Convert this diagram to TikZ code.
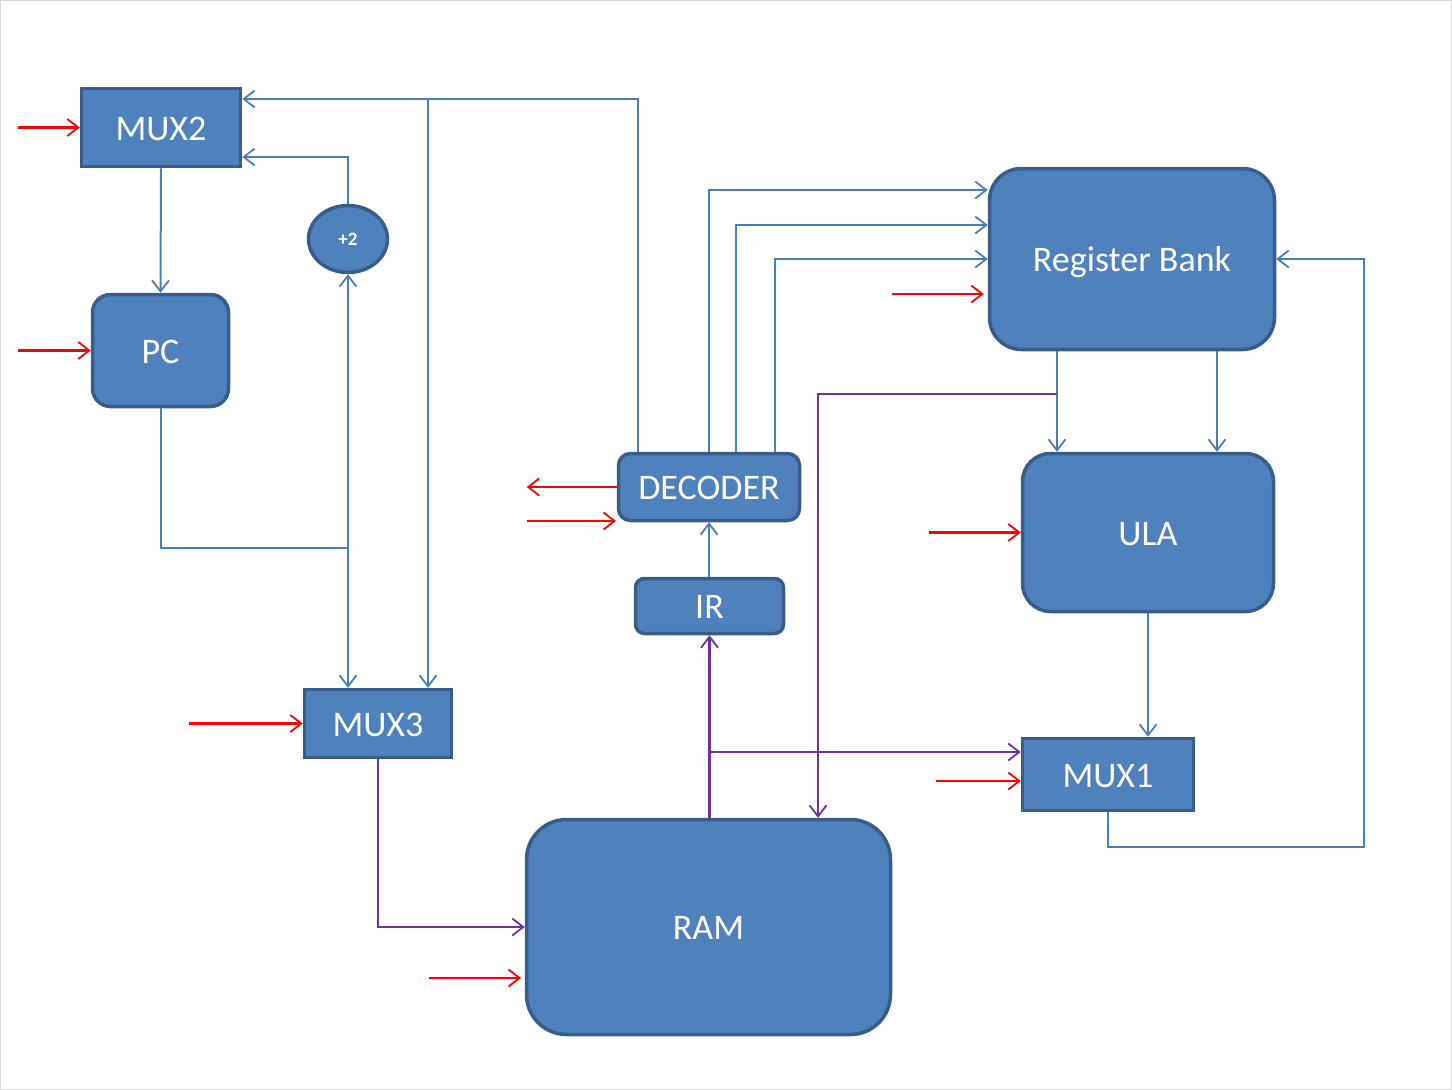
\documentclass[tikz,border=0pt]{standalone}
\usepackage{fontspec}
\setmainfont{Carlito}
\usetikzlibrary{arrows.meta,shapes.geometric}
\definecolor{boxfill}{HTML}{4F81BD}
\definecolor{boxline}{HTML}{385D8A}
\definecolor{wireblue}{HTML}{4A7EBB}
\definecolor{wirepurple}{HTML}{7030A0}
\definecolor{wirered}{HTML}{FF0000}
\begin{document}
\begin{tikzpicture}[x=1pt,y=-1pt,
  blk/.style={draw=boxline, fill=boxfill, line width=3.5pt, text=white,
    font=\fontsize{36}{40}\selectfont, inner sep=0pt, rectangle,
    text height=25pt, text depth=0pt},
  tipv/.style={-{Straight Barb[length=11pt,width=17pt,line width=1.8pt]}},
  bw/.style={draw=wireblue, line width=2pt, tipv},
  bl/.style={draw=wireblue, line width=2pt},
  pw/.style={draw=wirepurple, line width=2.2pt, tipv},
  rw/.style={draw=wirered, line width=2.2pt, tipv}]
\useasboundingbox (0,0) rectangle (1452,1090);
\draw[black!15, line width=1pt] (0.5,0.5) rectangle (1451.5,1089.5);

% blocks
\node[blk, minimum width=159pt, minimum height=78pt] (mux2) at (161,127.5) {MUX2};
\node[blk, rounded corners=18pt, minimum width=136pt, minimum height=112pt] (pc) at (160.5,350.5) {PC};
\node[blk, ellipse, minimum width=79pt, minimum height=67pt, font=\fontsize{19}{22}\selectfont\bfseries, text height=13pt] (plus2) at (348,239) {+2};
\node[blk, minimum width=147pt, minimum height=68pt] (mux3) at (378,723.5) {MUX3};
\node[blk, rounded corners=12pt, minimum width=181pt, minimum height=67pt] (dec) at (709,487) {DECODER};
\node[blk, rounded corners=9pt, minimum width=148pt, minimum height=55pt] (ir) at (709.5,606) {IR};
\node[blk, rounded corners=32pt, minimum width=285pt, minimum height=181pt] (reg) at (1132,259) {Register Bank};
\node[blk, rounded corners=28pt, minimum width=251pt, minimum height=158pt] (ula) at (1148,532.5) {ULA};
\node[blk, minimum width=171pt, minimum height=72pt] (mux1) at (1108,774.5) {MUX1};
\node[blk, rounded corners=40pt, minimum width=364pt, minimum height=215pt] (ram) at (708.5,927) {RAM};

\coordinate (jtop) at (428,99);
\coordinate (jpc) at (348,548);
\coordinate (jir) at (709,752);
\coordinate (jreg) at (1057,394);

% blue connectors
\draw[bw] (mux2.south) -- (pc.north);
\draw[bw] (plus2.north) |- (mux2.east |- 0,157);
\draw[bw] ([xshift=-71pt]dec.north) |- (mux2.east |- 0,99);
\draw[bw] (jtop) -- (mux3.north -| 428,0);
\draw[bl] (pc.south) |- (jpc);
\draw[bw] (jpc) -- (plus2.south);
\draw[bw] (jpc) -- (mux3.north -| 348,0);
\draw[bw] (dec.north) |- (reg.west |- 0,190);
\draw[bw] ([xshift=27pt]dec.north) |- (reg.west |- 0,225);
\draw[bw] ([xshift=66pt]dec.north) |- (reg.west |- 0,259);
\draw[bw] (ir.north -| dec.south) -- (dec.south);
\draw[bw] (reg.south -| 1057,0) -- (ula.north -| 1057,0);
\draw[bw] (reg.south -| 1217,0) -- (ula.north -| 1217,0);
\draw[bw] (ula.south) -- (mux1.north -| ula.south);
\draw[bw] (mux1.south) |- (1364,847) |- (reg.east);

% purple connectors
\draw[pw] (mux3.south) |- (ram.west);
\draw[pw] (ir.south |- ram.north) -- (ir.south);
\draw[pw] (jir) -- (mux1.west |- 0,752);
\draw[pw] (jreg) -| (ram.north -| 818,0);

% red control arrows
\draw[rw] ([xshift=-62pt]mux2.west) -- (mux2.west);
\draw[rw] ([xshift=-73pt]pc.west) -- (pc.west);
\draw[rw] (892,294) -- ([xshift=-4pt]reg.west |- 0,294);
\draw[rw] (dec.west) -- ([xshift=-90pt]dec.west);
\draw[rw] (527,521) -- (616,521);
\draw[rw] ([xshift=-92pt]ula.west) -- (ula.west);
\draw[rw] ([xshift=-114pt]mux3.west) -- (mux3.west);
\draw[rw] (936,781) -- (mux1.west |- 0,781);
\draw[rw] (429,978) -- (521,978);
\end{tikzpicture}
\end{document}
